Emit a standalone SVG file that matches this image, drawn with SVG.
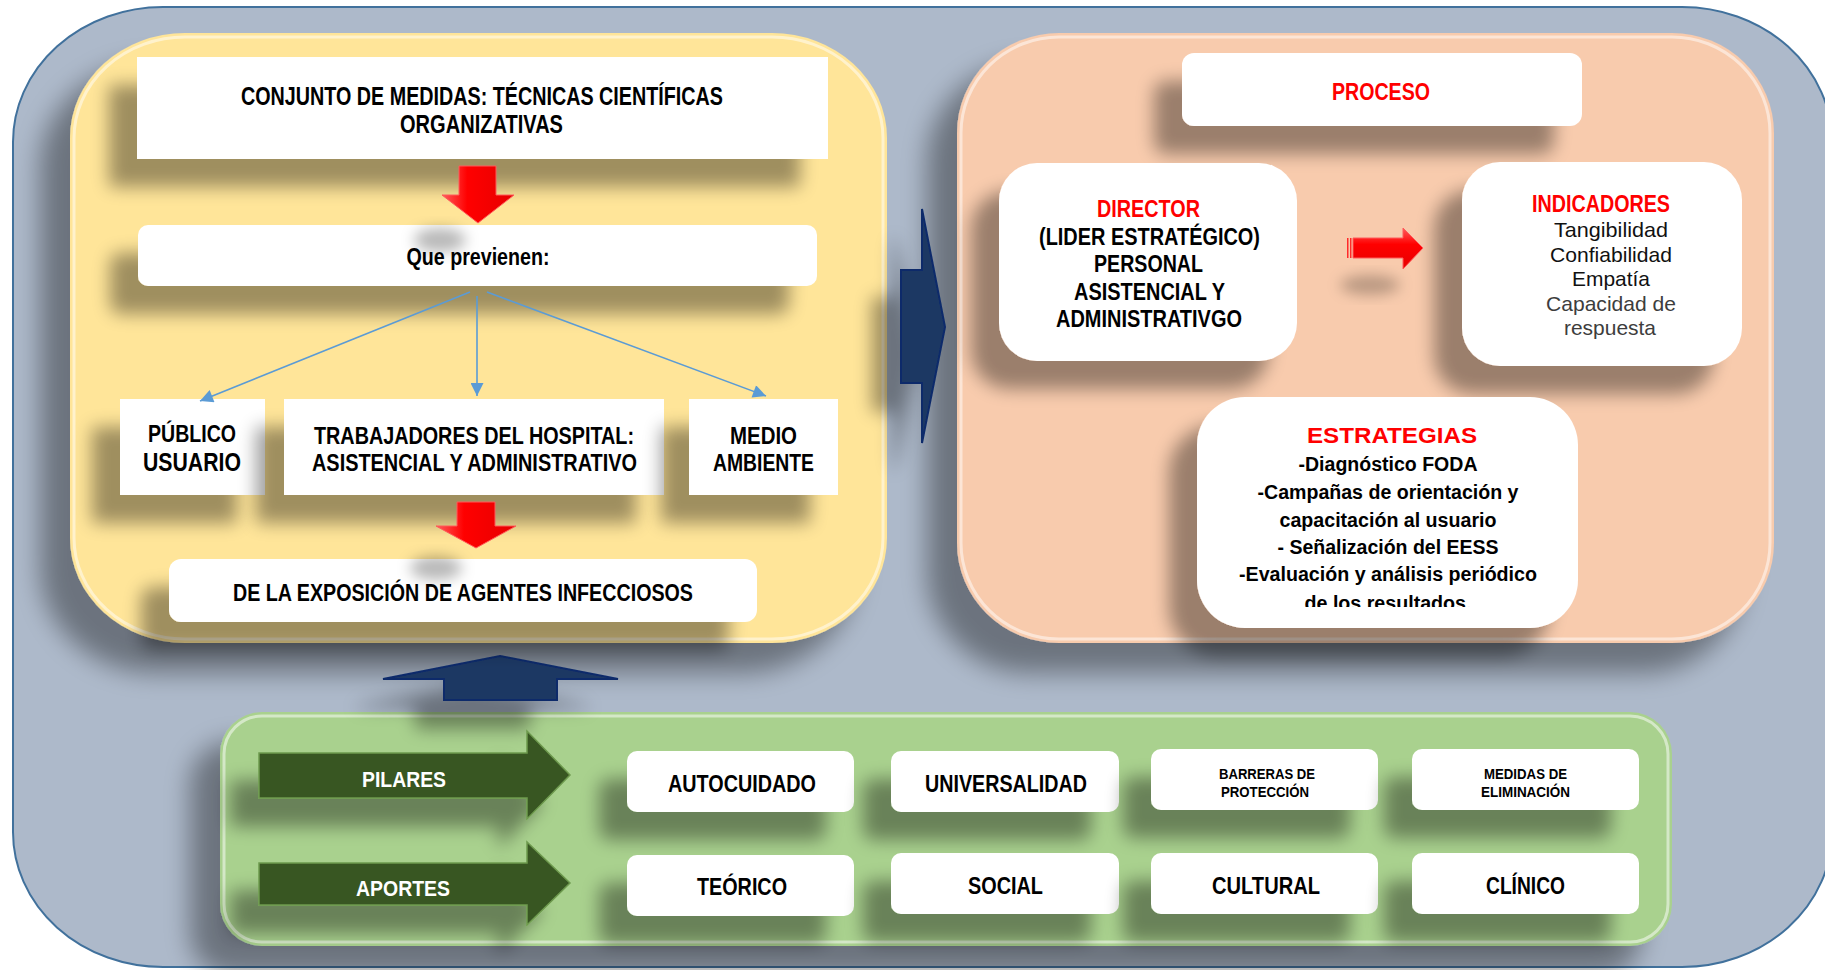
<svg xmlns="http://www.w3.org/2000/svg" width="1825" height="970" viewBox="0 0 1825 970">
  <defs>
    <style>
      .t{font-family:"Liberation Sans",Arial,sans-serif;font-weight:bold;text-anchor:middle;fill:#000}
      .red{fill:#ff0000}
      .wh{fill:#ffffff}
      .reg{font-weight:normal;fill:#111}
      .gray{font-weight:normal;fill:#3d3d3d}
      .box{fill:#ffffff}
      .edge{fill:none;stroke:#ffffff;stroke-opacity:0.5;stroke-width:3}
      .navy{fill:#1f3864;stroke:#0b2a6b;stroke-width:2;stroke-linejoin:miter}
      .garrow{fill:#385723;stroke:#6e9a4e;stroke-width:1.5}
      .rarrow{stroke:#ff5a5a;stroke-width:1}
      .link{stroke:#5b9bd5;stroke-width:1.6;fill:none;marker-end:url(#ah)}
    </style>
    <!-- soft drop shadow, cast down and to the left -->
    <filter id="sh" filterUnits="userSpaceOnUse" x="0" y="0" width="1825" height="970">
      <feGaussianBlur in="SourceAlpha" stdDeviation="9" result="b"/>
      <feOffset in="b" dx="-28" dy="28" result="o"/>
      <feComponentTransfer in="o" result="s"><feFuncA type="linear" slope="0.38"/></feComponentTransfer>
      <feMerge><feMergeNode in="s"/><feMergeNode in="SourceGraphic"/></feMerge>
    </filter>
    <filter id="shP" filterUnits="userSpaceOnUse" x="0" y="0" width="1825" height="970">
      <feGaussianBlur in="SourceAlpha" stdDeviation="13" result="b"/>
      <feOffset in="b" dx="-30" dy="30" result="o"/>
      <feComponentTransfer in="o" result="s"><feFuncA type="linear" slope="0.38"/></feComponentTransfer>
      <feMerge><feMergeNode in="s"/><feMergeNode in="SourceGraphic"/></feMerge>
    </filter>
    <filter id="soft" x="-50%" y="-50%" width="200%" height="200%">
      <feGaussianBlur stdDeviation="7"/>
    </filter>
    <linearGradient id="redGloss" x1="0" y1="0" x2="1" y2="0">
      <stop offset="0" stop-color="#ff5c5c"/>
      <stop offset="0.35" stop-color="#ff0000"/>
      <stop offset="1" stop-color="#e60000"/>
    </linearGradient>
    <linearGradient id="redGlossV" x1="0" y1="0" x2="0" y2="1">
      <stop offset="0" stop-color="#ff5c5c"/>
      <stop offset="0.4" stop-color="#ff0000"/>
      <stop offset="1" stop-color="#e60000"/>
    </linearGradient>
    <marker id="ah" viewBox="0 0 10 10" refX="10" refY="5" markerWidth="16" markerHeight="13" markerUnits="userSpaceOnUse" orient="auto">
      <path d="M0,0 L10,5 L0,10 z" fill="#5b9bd5"/>
    </marker>
    <clipPath id="estClip"><rect x="1197" y="397" width="381" height="210"/></clipPath>
  </defs>

  <!-- background frame -->
  <rect id="fondo" x="13" y="7" width="1819" height="960" rx="150" ry="135" fill="#adb9ca" stroke="#41719c" stroke-width="2"/>

  <!-- panels -->
  <g id="panel-medidas">
    <rect x="70" y="33" width="817" height="610" rx="115" ry="105" fill="#ffe599" filter="url(#shP)"/>
    <rect class="edge" x="74" y="37" width="809" height="602" rx="111" ry="101"/>
  </g>
  <g id="panel-proceso">
    <rect x="957" y="33" width="817" height="610" rx="102" ry="100" fill="#f8cbad" filter="url(#shP)"/>
    <rect class="edge" x="961" y="37" width="809" height="602" rx="98" ry="96"/>
  </g>
  <g id="panel-pilares">
    <rect x="220" y="712" width="1452" height="234" rx="42" fill="#a9d18e" filter="url(#shP)"/>
    <rect class="edge" x="224" y="716" width="1444" height="226" rx="38"/>
  </g>

  <!-- block arrows between panels -->
  <g id="flecha-derecha">
    <polygon class="navy" points="901,270 922,270 922,209 945,327 922,443 922,383 901,383" filter="url(#sh)"/>
  </g>
  <g id="flecha-arriba">
    <polygon class="navy" points="500,656 618,679 557,679 557,700 444,700 444,679 383,679" filter="url(#sh)"/>
  </g>

  <!-- left panel nodes -->
  <g id="conjunto">
    <rect class="box" x="137" y="57" width="691" height="102" filter="url(#sh)"/>
    <text class="t" x="482" y="105" font-size="25" textLength="482" lengthAdjust="spacingAndGlyphs">CONJUNTO DE MEDIDAS: TÉCNICAS CIENTÍFICAS</text>
    <text class="t" x="481.5" y="132.5" font-size="25" textLength="163" lengthAdjust="spacingAndGlyphs">ORGANIZATIVAS</text>
  </g>
  <g id="previenen">
    <rect class="box" x="138" y="225" width="679" height="61" rx="10" filter="url(#sh)"/>
    <text class="t" x="478" y="265" font-size="23" textLength="143" lengthAdjust="spacingAndGlyphs">Que previenen:</text>
  </g>
  <g id="publico">
    <rect class="box" x="120" y="399" width="145" height="96" filter="url(#sh)"/>
    <text class="t" x="192" y="442" font-size="23" textLength="88" lengthAdjust="spacingAndGlyphs">PÚBLICO</text>
    <text class="t" x="192" y="471" font-size="25" textLength="98" lengthAdjust="spacingAndGlyphs">USUARIO</text>
  </g>
  <g id="trabajadores">
    <rect class="box" x="284" y="399" width="380" height="96" filter="url(#sh)"/>
    <text class="t" x="474" y="444" font-size="24" textLength="320" lengthAdjust="spacingAndGlyphs">TRABAJADORES DEL HOSPITAL:</text>
    <text class="t" x="474.5" y="471" font-size="24" textLength="325" lengthAdjust="spacingAndGlyphs">ASISTENCIAL Y ADMINISTRATIVO</text>
  </g>
  <g id="medio-ambiente">
    <rect class="box" x="689" y="399" width="149" height="96" filter="url(#sh)"/>
    <text class="t" x="763.5" y="444" font-size="24" textLength="67" lengthAdjust="spacingAndGlyphs">MEDIO</text>
    <text class="t" x="763.5" y="471" font-size="24" textLength="101" lengthAdjust="spacingAndGlyphs">AMBIENTE</text>
  </g>
  <g id="exposicion">
    <rect class="box" x="169" y="559" width="588" height="63" rx="12" filter="url(#sh)"/>
    <text class="t" x="463" y="601" font-size="23" textLength="460" lengthAdjust="spacingAndGlyphs">DE LA EXPOSICIÓN DE AGENTES INFECCIOSOS</text>
  </g>

  <!-- right panel nodes -->
  <g id="proceso">
    <rect class="box" x="1182" y="53" width="400" height="73" rx="12" filter="url(#sh)"/>
    <text class="t red" x="1381" y="100" font-size="23" textLength="98" lengthAdjust="spacingAndGlyphs">PROCESO</text>
  </g>
  <g id="director">
    <rect class="box" x="999" y="163" width="298" height="198" rx="38" filter="url(#sh)"/>
    <text class="t red" x="1148.5" y="217" font-size="23" textLength="103" lengthAdjust="spacingAndGlyphs">DIRECTOR</text>
    <text class="t" x="1149.5" y="245" font-size="23" textLength="221" lengthAdjust="spacingAndGlyphs">(LIDER ESTRATÉGICO)</text>
    <text class="t" x="1148.5" y="272" font-size="23" textLength="109" lengthAdjust="spacingAndGlyphs">PERSONAL</text>
    <text class="t" x="1149.5" y="300" font-size="23" textLength="151" lengthAdjust="spacingAndGlyphs">ASISTENCIAL Y</text>
    <text class="t" x="1149" y="327" font-size="23" textLength="186" lengthAdjust="spacingAndGlyphs">ADMINISTRATIVGO</text>
  </g>
  <g id="indicadores">
    <rect class="box" x="1462" y="162" width="280" height="204" rx="38" filter="url(#sh)"/>
    <text class="t red" x="1601" y="212" font-size="23" textLength="138" lengthAdjust="spacingAndGlyphs">INDICADORES</text>
    <text class="t reg" x="1611" y="237" font-size="21" textLength="114" lengthAdjust="spacingAndGlyphs">Tangibilidad</text>
    <text class="t reg" x="1611" y="262" font-size="21" textLength="122" lengthAdjust="spacingAndGlyphs">Confiabilidad</text>
    <text class="t reg" x="1611" y="286" font-size="21" textLength="78" lengthAdjust="spacingAndGlyphs">Empatía</text>
    <text class="t gray" x="1611" y="311" font-size="21" textLength="130" lengthAdjust="spacingAndGlyphs">Capacidad de</text>
    <text class="t gray" x="1610" y="335" font-size="21" textLength="92" lengthAdjust="spacingAndGlyphs">respuesta</text>
  </g>
  <g id="estrategias">
    <rect class="box" x="1197" y="397" width="381" height="231" rx="48" filter="url(#sh)"/>
    <!-- the list overflows its box; the last line is cut at the text frame -->
    <g clip-path="url(#estClip)">
      <text class="t red" x="1392" y="443" font-size="22" textLength="170" lengthAdjust="spacingAndGlyphs">ESTRATEGIAS</text>
      <text class="t" x="1388" y="471" font-size="20" textLength="179" lengthAdjust="spacingAndGlyphs">-Diagnóstico FODA</text>
      <text class="t" x="1388" y="499" font-size="20" textLength="261" lengthAdjust="spacingAndGlyphs">-Campañas de orientación y</text>
      <text class="t" x="1388" y="527" font-size="20" textLength="217" lengthAdjust="spacingAndGlyphs">capacitación al usuario</text>
      <text class="t" x="1388" y="554" font-size="20" textLength="221" lengthAdjust="spacingAndGlyphs">- Señalización del EESS</text>
      <text class="t" x="1388" y="581" font-size="20" textLength="298" lengthAdjust="spacingAndGlyphs">-Evaluación y análisis periódico</text>
      <text class="t" x="1388" y="610" font-size="20" textLength="167" lengthAdjust="spacingAndGlyphs">de los resultados.</text>
    </g>
  </g>

  <!-- bottom panel nodes -->
  <g id="pilares">
    <polygon class="garrow" points="259,753 527,753 527,731 570,775 527,819 527,798 259,798" filter="url(#sh)"/>
    <text class="t wh" x="404" y="787" font-size="22" textLength="84" lengthAdjust="spacingAndGlyphs">PILARES</text>
  </g>
  <g id="aportes">
    <polygon class="garrow" points="259,863 527,863 527,842 570,883 527,925 527,905 259,905" filter="url(#sh)"/>
    <text class="t wh" x="403" y="896" font-size="22" textLength="94" lengthAdjust="spacingAndGlyphs">APORTES</text>
  </g>
  <g id="autocuidado">
    <rect class="box" x="627" y="751" width="227" height="61" rx="10" filter="url(#sh)"/>
    <text class="t" x="742" y="792" font-size="23" textLength="148" lengthAdjust="spacingAndGlyphs">AUTOCUIDADO</text>
  </g>
  <g id="universalidad">
    <rect class="box" x="891" y="751" width="228" height="61" rx="10" filter="url(#sh)"/>
    <text class="t" x="1006" y="792" font-size="23" textLength="162" lengthAdjust="spacingAndGlyphs">UNIVERSALIDAD</text>
  </g>
  <g id="barreras">
    <rect class="box" x="1151" y="749" width="227" height="61" rx="10" filter="url(#sh)"/>
    <text class="t" x="1267" y="779" font-size="15" textLength="96" lengthAdjust="spacingAndGlyphs">BARRERAS DE</text>
    <text class="t" x="1265" y="797" font-size="15" textLength="88" lengthAdjust="spacingAndGlyphs">PROTECCIÓN</text>
  </g>
  <g id="medidas-eliminacion">
    <rect class="box" x="1412" y="749" width="227" height="61" rx="10" filter="url(#sh)"/>
    <text class="t" x="1525.5" y="779" font-size="15" textLength="83" lengthAdjust="spacingAndGlyphs">MEDIDAS DE</text>
    <text class="t" x="1525.5" y="797" font-size="15" textLength="89" lengthAdjust="spacingAndGlyphs">ELIMINACIÓN</text>
  </g>
  <g id="teorico">
    <rect class="box" x="627" y="855" width="227" height="61" rx="10" filter="url(#sh)"/>
    <text class="t" x="742" y="895" font-size="23" textLength="90" lengthAdjust="spacingAndGlyphs">TEÓRICO</text>
  </g>
  <g id="social">
    <rect class="box" x="891" y="853" width="228" height="61" rx="10" filter="url(#sh)"/>
    <text class="t" x="1005.5" y="894" font-size="23" textLength="75" lengthAdjust="spacingAndGlyphs">SOCIAL</text>
  </g>
  <g id="cultural">
    <rect class="box" x="1151" y="853" width="227" height="61" rx="10" filter="url(#sh)"/>
    <text class="t" x="1266" y="894" font-size="23" textLength="108" lengthAdjust="spacingAndGlyphs">CULTURAL</text>
  </g>
  <g id="clinico">
    <rect class="box" x="1412" y="853" width="227" height="61" rx="10" filter="url(#sh)"/>
    <text class="t" x="1525.5" y="894" font-size="23" textLength="79" lengthAdjust="spacingAndGlyphs">CLÍNICO</text>
  </g>

  <!-- connectors -->
  <g id="conectores">
    <ellipse cx="440" cy="240" rx="26" ry="12" fill="#000" fill-opacity="0.28" filter="url(#soft)"/>
    <ellipse cx="436" cy="568" rx="26" ry="12" fill="#000" fill-opacity="0.28" filter="url(#soft)"/>
    <ellipse cx="1370" cy="285" rx="30" ry="10" fill="#000" fill-opacity="0.25" filter="url(#soft)"/>
    <polygon class="rarrow" style="fill:url(#redGloss)" points="459,166 496,166 496,195 514,195 478,223 442,195 459,195"/>
    <polygon class="rarrow" style="fill:url(#redGloss)" points="457,502 495,502 495,526 516,526 476,548 436,526 457,526"/>
    <rect x="1347" y="238" width="1.5" height="20" fill="#ff2a2a"/>
    <rect x="1350" y="238" width="1.5" height="20" fill="#ff2a2a"/>
    <polygon class="rarrow" style="fill:url(#redGlossV)" points="1353,238 1403,238 1403,228 1423,248 1403,269 1403,258 1353,258"/>
    <line class="link" x1="470" y1="292" x2="200" y2="401"/>
    <line class="link" x1="477" y1="296" x2="477" y2="396"/>
    <line class="link" x1="487" y1="292" x2="766" y2="396"/>
  </g>
</svg>
